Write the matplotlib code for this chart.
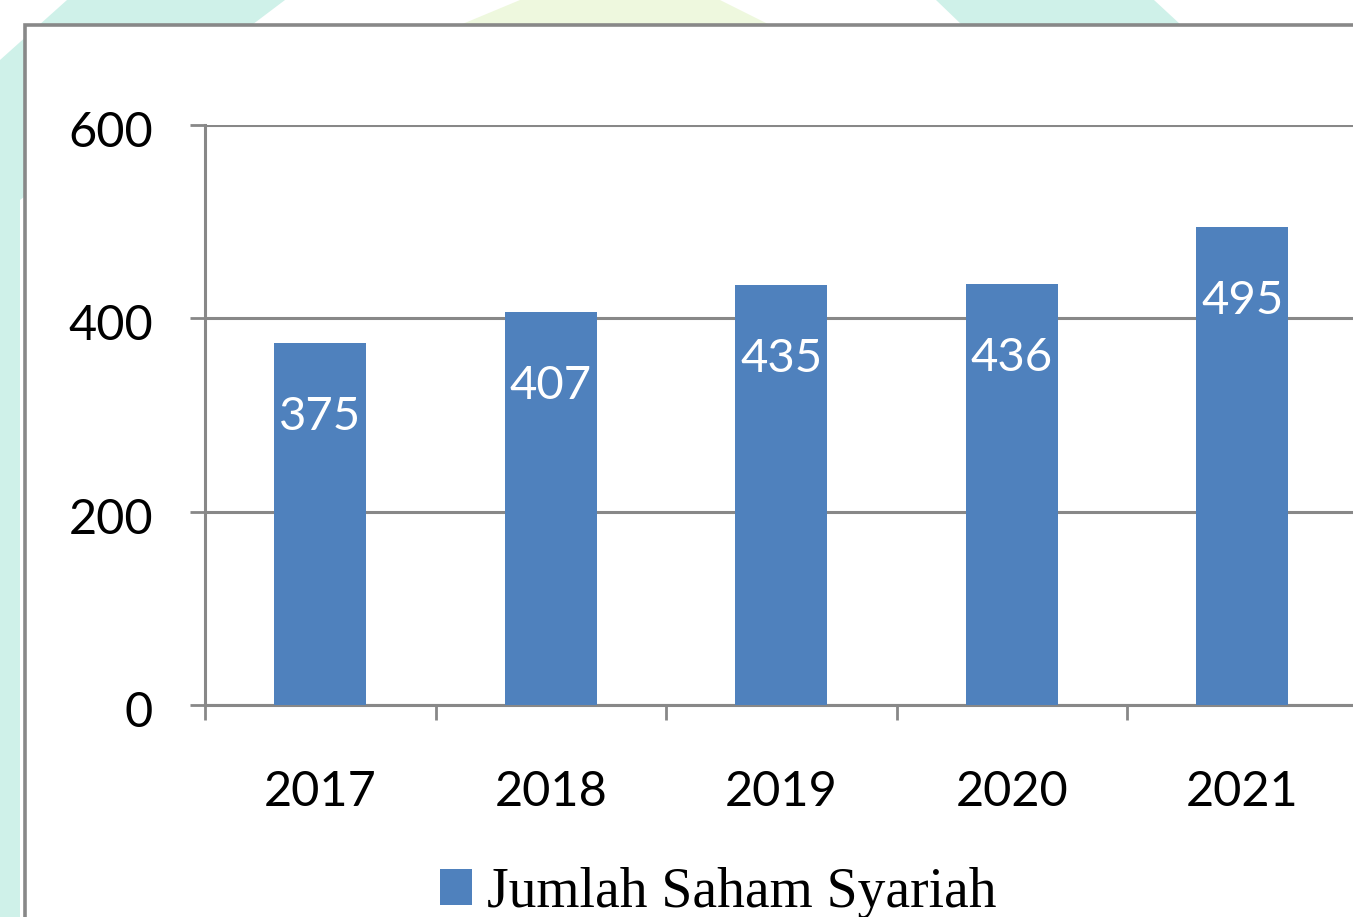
import matplotlib
matplotlib.use('Agg')
import matplotlib.pyplot as plt
from matplotlib.transforms import offset_copy
from matplotlib.patches import Polygon, Rectangle
import numpy as np

years = ['2017', '2018', '2019', '2020', '2021']
jumlah_saham = [375, 407, 435, 436, 495]
legend_label = 'Jumlah Saham Syariah'
y_ticks = [0, 200, 400, 600]

bar_color = '#4F81BD'
line_gray = '#888888'

W, H = 1353, 917
fig = plt.figure(figsize=(W / 100, H / 100), dpi=100)
fig.patch.set_facecolor('white')


def px(x, y):
    # pixel (from top-left) -> figure fraction
    return (x / W, 1 - y / H)


# faint watermark behind the chart box
for pts, col in [
    ([(0, 60), (0, H), (20, H), (20, 200), (285, 0), (67, 0)], '#CFF1E9'),
    ([(460, 25), (770, 25), (720, 0), (520, 0)], '#EEF8DE'),
    ([(936, 0), (1154, 0), (1181, 25), (962, 25)], '#CFF1E9'),
]:
    fig.patches.append(Polygon([px(*p) for p in pts], closed=True,
                               transform=fig.transFigure, facecolor=col,
                               edgecolor='none', zorder=0))

# outer chart frame
x0, y0 = px(25, 25)
fig.patches.append(Rectangle((x0, -0.1), 1.2, y0 + 0.1, transform=fig.transFigure,
                             facecolor='white', edgecolor=line_gray, linewidth=2.6,
                             zorder=1))

ax = fig.add_axes([205 / W, 1 - 705 / H, 1152.5 / W, 580 / H])
ax.set_facecolor('none')
ax.set_zorder(2)

x = np.arange(len(years))
bars = ax.bar(x, jumlah_saham, width=0.40, color=bar_color, zorder=3,
              label=legend_label)

for xi, v in zip(x, jumlah_saham):
    ax.text(xi, v - 77, str(v), ha='center', va='center', color='white',
            fontsize=34, family='Lato', zorder=4)

ax.set_ylim(0, 600)
ax.set_xlim(-0.5, len(years) - 0.5)
ax.set_yticks(y_ticks)
ax.set_yticklabels([])
# y labels sit a little below their gridlines (Excel look)
ylab_tr = offset_copy(ax.get_yaxis_transform(), fig=fig, x=-52, y=-8, units='dots')
for t in y_ticks:
    ax.text(0, t, str(t), transform=ylab_tr, ha='right', va='center',
            family='Lato', fontsize=35, clip_on=False)

ax.set_xticks(x)
ax.set_xticklabels(years, family='Lato', fontsize=35)
ax.set_xticks(np.arange(-0.5, len(years) - 0.5, 1), minor=True)

ax.tick_params(axis='x', which='major', length=0, pad=47)
ax.tick_params(axis='x', which='minor', length=11, width=2, color=line_gray,
               direction='out')
ax.tick_params(axis='y', length=11, width=2, color=line_gray)

ax.grid(axis='y', color=line_gray, linewidth=2.2, zorder=1)
ax.set_axisbelow(True)
for s in ['top', 'right']:
    ax.spines[s].set_visible(False)
for s in ['left', 'bottom']:
    ax.spines[s].set_color(line_gray)
    ax.spines[s].set_linewidth(2.2)

fig.legend(handles=[bars], labels=[legend_label], loc='center',
           bbox_to_anchor=px(718, 893), frameon=False,
           prop={'family': 'Liberation Serif', 'size': 40},
           handlelength=0.58, handleheight=0.62, handletextpad=0.27,
           borderpad=0)

fig.savefig('out.png', dpi=100)
